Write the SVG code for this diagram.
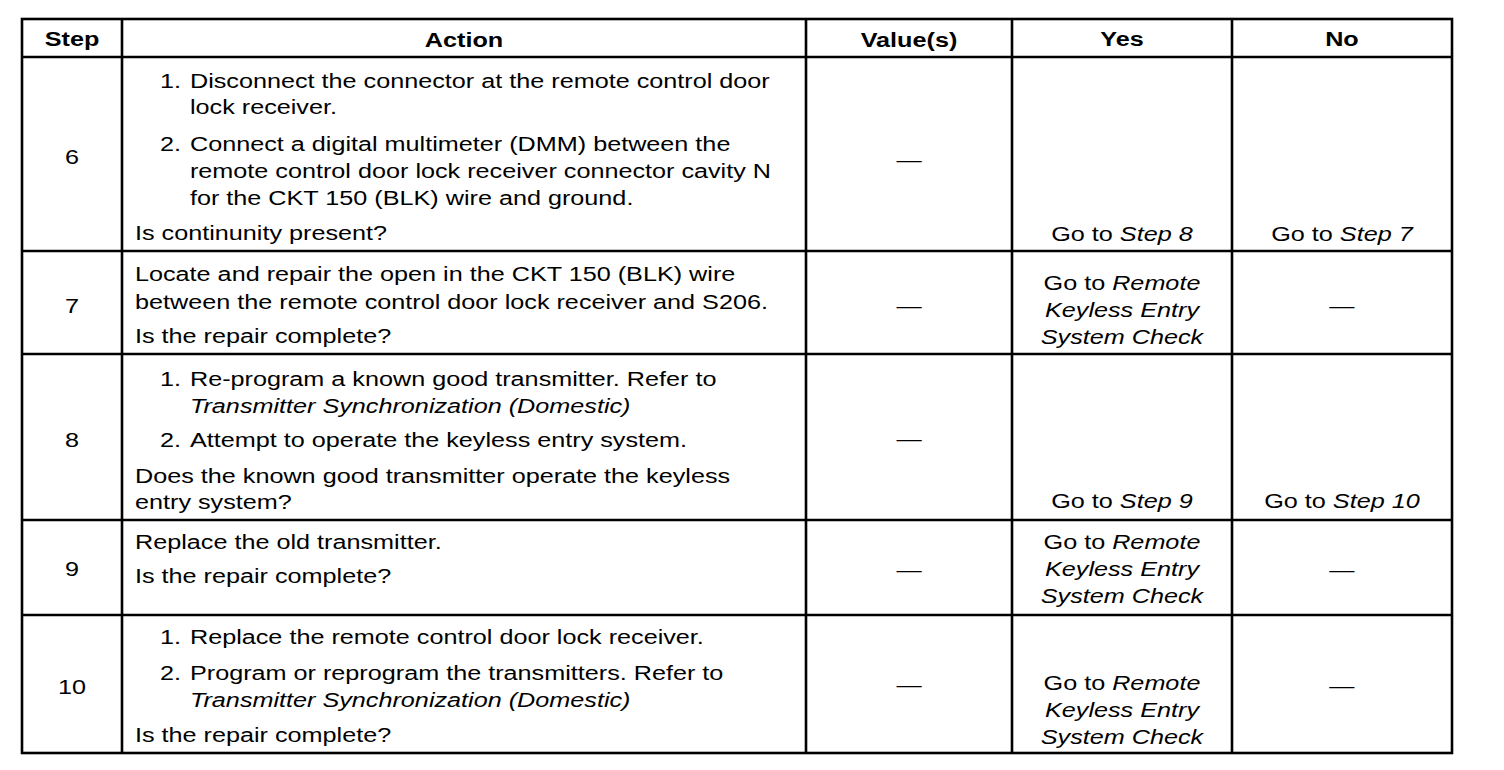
<svg xmlns="http://www.w3.org/2000/svg" width="1504" height="770" viewBox="0 0 1504 770">
<style>
text{font-family:"Liberation Sans",Arial,sans-serif;font-size:21px;fill:#000}
.h{font-weight:bold}
.c{text-anchor:middle}
.i{font-style:italic}
.ln{stroke:#000;stroke-width:2.6;fill:none}
</style>
<rect x="0" y="0" width="1504" height="770" fill="#fff"/>
<g id="grid">
<rect class="ln" x="22" y="19" width="1430" height="734"/>
<path class="ln" d="M122 19V753M806 19V753M1012 19V753M1232 19V753"/>
<path class="ln" d="M22 57H1452M22 251H1452M22 354H1452M22 520H1452M22 615H1452"/>
</g>
<g id="header">
<g transform="scale(1.2 1)">
<text class="h c" x="60" y="46">Step</text>
<text class="h c" x="386.7" y="47">Action</text>
<text class="h c" x="757.5" y="47">Value(s)</text>
<text class="h c" x="935" y="46">Yes</text>
<text class="h c" x="1118.3" y="46">No</text>
</g>
</g>
<g id="step6">
<g transform="scale(1.2 1)">
<text class="c" x="60" y="164">6</text>
<text x="133.3" y="88">1.</text>
<text x="158.3" y="88">Disconnect the connector at the remote control door</text>
<text x="158.3" y="114">lock receiver.</text>
<text x="133.3" y="151">2.</text>
<text x="158.3" y="151">Connect a digital multimeter (DMM) between the</text>
<text x="158.3" y="178">remote control door lock receiver connector cavity N</text>
<text x="158.3" y="205">for the CKT 150 (BLK) wire and ground.</text>
<text x="112.5" y="240">Is continunity present?</text>
<text class="c" x="757.5" y="167">—</text>
<text class="c" x="935" y="241">Go to <tspan class="i">Step 8</tspan></text>
<text class="c" x="1118.3" y="241">Go to <tspan class="i">Step 7</tspan></text>
</g>
</g>
<g id="step7">
<g transform="scale(1.2 1)">
<text class="c" x="60" y="313">7</text>
<text x="112.5" y="281">Locate and repair the open in the CKT 150 (BLK) wire</text>
<text x="112.5" y="309">between the remote control door lock receiver and S206.</text>
<text x="112.5" y="343">Is the repair complete?</text>
<text class="c" x="757.5" y="313">—</text>
<text class="c" x="935" y="290">Go to <tspan class="i">Remote</tspan></text>
<text class="c i" x="935" y="317">Keyless Entry</text>
<text class="c i" x="935" y="344">System Check</text>
<text class="c" x="1118.3" y="313">—</text>
</g>
</g>
<g id="step8">
<g transform="scale(1.2 1)">
<text class="c" x="60" y="447">8</text>
<text x="133.3" y="386">1.</text>
<text x="158.3" y="386">Re-program a known good transmitter. Refer to</text>
<text class="i" x="158.3" y="413">Transmitter Synchronization (Domestic)</text>
<text x="133.3" y="447">2.</text>
<text x="158.3" y="447">Attempt to operate the keyless entry system.</text>
<text x="112.5" y="483">Does the known good transmitter operate the keyless</text>
<text x="112.5" y="509">entry system?</text>
<text class="c" x="757.5" y="446">—</text>
<text class="c" x="935" y="508">Go to <tspan class="i">Step 9</tspan></text>
<text class="c" x="1118.3" y="508">Go to <tspan class="i">Step 10</tspan></text>
</g>
</g>
<g id="step9">
<g transform="scale(1.2 1)">
<text class="c" x="60" y="576">9</text>
<text x="112.5" y="549">Replace the old transmitter.</text>
<text x="112.5" y="583">Is the repair complete?</text>
<text class="c" x="757.5" y="577">—</text>
<text class="c" x="935" y="549">Go to <tspan class="i">Remote</tspan></text>
<text class="c i" x="935" y="576">Keyless Entry</text>
<text class="c i" x="935" y="603">System Check</text>
<text class="c" x="1118.3" y="577">—</text>
</g>
</g>
<g id="step10">
<g transform="scale(1.2 1)">
<text class="c" x="60" y="694">10</text>
<text x="133.3" y="644">1.</text>
<text x="158.3" y="644">Replace the remote control door lock receiver.</text>
<text x="133.3" y="680">2.</text>
<text x="158.3" y="680">Program or reprogram the transmitters. Refer to</text>
<text class="i" x="158.3" y="707">Transmitter Synchronization (Domestic)</text>
<text x="112.5" y="742">Is the repair complete?</text>
<text class="c" x="757.5" y="692">—</text>
<text class="c" x="935" y="690">Go to <tspan class="i">Remote</tspan></text>
<text class="c i" x="935" y="717">Keyless Entry</text>
<text class="c i" x="935" y="744">System Check</text>
<text class="c" x="1118.3" y="693">—</text>
</g>
</g>
</svg>
